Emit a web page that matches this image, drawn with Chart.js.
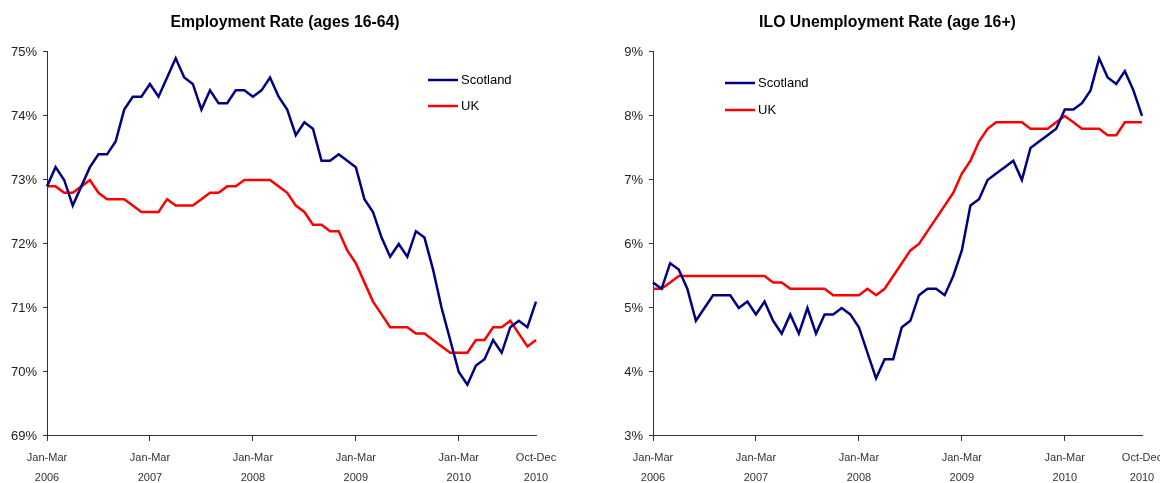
<!DOCTYPE html>
<html>
<head>
<meta charset="utf-8">
<script src="https://cdn.jsdelivr.net/npm/chart.js@4.4.0/dist/chart.umd.min.js"></script>
<style>
  html, body { margin: 0; padding: 0; background: #fff; overflow: hidden; }
  #wrap { position: relative; width: 1160px; height: 483px; overflow: hidden; }
  #empChart { position: absolute; left: 0; top: 0; }
  #unempChart { position: absolute; left: 580px; top: 0; }
</style>
</head>
<body>
<div id="wrap">
  <canvas id="empChart" width="564" height="483"></canvas>
  <canvas id="unempChart" width="608" height="483"></canvas>
</div>
<script>
// rolling three-month periods, Jan-Mar 2006 to Oct-Dec 2010
const quarters = ['Jan-Mar', 'Feb-Apr', 'Mar-May', 'Apr-Jun', 'May-Jul', 'Jun-Aug',
  'Jul-Sep', 'Aug-Oct', 'Sep-Nov', 'Oct-Dec', 'Nov-Jan', 'Dec-Feb'];
const years = ['2006', '2007', '2008', '2009', '2010'];
const periods = [];
years.forEach(y => quarters.forEach(q => periods.push([q, y])));
periods.length = 58;

// employment rate, ages 16-64 (%)
const empScotland = [72.9, 73.2, 73.0, 72.6, 72.9, 73.2, 73.4, 73.4, 73.6, 74.1, 74.3, 74.3,
  74.5, 74.3, 74.6, 74.9, 74.6, 74.5, 74.1, 74.4, 74.2, 74.2, 74.4, 74.4,
  74.3, 74.4, 74.6, 74.3, 74.1, 73.7, 73.9, 73.8, 73.3, 73.3, 73.4, 73.3,
  73.2, 72.7, 72.5, 72.1, 71.8, 72.0, 71.8, 72.2, 72.1, 71.6, 71.0, 70.5,
  70.0, 69.8, 70.1, 70.2, 70.5, 70.3, 70.7, 70.8, 70.7, 71.1];
const empUK = [72.9, 72.9, 72.8, 72.8, 72.9, 73.0, 72.8, 72.7, 72.7, 72.7, 72.6, 72.5,
  72.5, 72.5, 72.7, 72.6, 72.6, 72.6, 72.7, 72.8, 72.8, 72.9, 72.9, 73.0,
  73.0, 73.0, 73.0, 72.9, 72.8, 72.6, 72.5, 72.3, 72.3, 72.2, 72.2, 71.9,
  71.7, 71.4, 71.1, 70.9, 70.7, 70.7, 70.7, 70.6, 70.6, 70.5, 70.4, 70.3,
  70.3, 70.3, 70.5, 70.5, 70.7, 70.7, 70.8, 70.6, 70.4, 70.5];

// ILO unemployment rate, age 16+ (%)
const unempScotland = [5.4, 5.3, 5.7, 5.6, 5.3, 4.8, 5.0, 5.2, 5.2, 5.2, 5.0, 5.1,
  4.9, 5.1, 4.8, 4.6, 4.9, 4.6, 5.0, 4.6, 4.9, 4.9, 5.0, 4.9,
  4.7, 4.3, 3.9, 4.2, 4.2, 4.7, 4.8, 5.2, 5.3, 5.3, 5.2, 5.5,
  5.9, 6.6, 6.7, 7.0, 7.1, 7.2, 7.3, 7.0, 7.5, 7.6, 7.7, 7.8,
  8.1, 8.1, 8.2, 8.4, 8.9, 8.6, 8.5, 8.7, 8.4, 8.0];
const unempUK = [5.3, 5.3, 5.4, 5.5, 5.5, 5.5, 5.5, 5.5, 5.5, 5.5, 5.5, 5.5,
  5.5, 5.5, 5.4, 5.4, 5.3, 5.3, 5.3, 5.3, 5.3, 5.2, 5.2, 5.2,
  5.2, 5.3, 5.2, 5.3, 5.5, 5.7, 5.9, 6.0, 6.2, 6.4, 6.6, 6.8,
  7.1, 7.3, 7.6, 7.8, 7.9, 7.9, 7.9, 7.9, 7.8, 7.8, 7.8, 7.9,
  8.0, 7.9, 7.8, 7.8, 7.8, 7.7, 7.7, 7.9, 7.9, 7.9];

const FONT = "'Liberation Sans', Arial, sans-serif";
const axisColor = '#333333';

// legend drawn inside the plot, like the original
const insetLegend = {
  id: 'insetLegend',
  afterDraw(chart, args, opts) {
    const ctx = chart.ctx;
    ctx.save();
    ctx.font = '13px ' + FONT;
    ctx.textBaseline = 'middle';
    ctx.textAlign = 'left';
    chart.data.datasets.forEach((ds, i) => {
      const y = opts.y + i * opts.gap;
      ctx.strokeStyle = ds.borderColor;
      ctx.lineWidth = 2.5;
      ctx.beginPath();
      ctx.moveTo(opts.x, y);
      ctx.lineTo(opts.x + 30, y);
      ctx.stroke();
      ctx.fillStyle = '#000';
      ctx.fillText(ds.label, opts.x + 33, y);
    });
    ctx.restore();
  }
};

// centre the title over the whole panel, not just the padded box
const titleSpan = {
  id: 'titleSpan',
  afterLayout(chart, args, opts) {
    const t = chart.titleBlock;
    if (!t) return;
    t.left = opts.left;
    t.right = opts.right;
    t.width = opts.right - opts.left;
  }
};

function makeChart(id, title, scot, uk, yMin, yMax, yWidth, padR, span, legendPos) {
  return new Chart(document.getElementById(id), {
    type: 'line',
    data: {
      labels: periods,
      datasets: [
        { label: 'Scotland', data: scot, borderColor: '#000080', borderWidth: 2.5,
          pointRadius: 0, tension: 0, fill: false },
        { label: 'UK', data: uk, borderColor: '#ff0000', borderWidth: 2.5,
          pointRadius: 0, tension: 0, fill: false }
      ]
    },
    options: {
      responsive: false,
      animation: false,
      layout: { padding: { left: 0, right: padR, top: 0, bottom: 0 } },
      scales: {
        x: {
          grid: {
            drawOnChartArea: false,
            tickLength: 5,
            color: 'rgba(0,0,0,0)',
            tickColor: ctx => (ctx.index % 12 === 0 ? axisColor : 'rgba(0,0,0,0)')
          },
          border: { color: axisColor, width: 1 },
          ticks: {
            autoSkip: false,
            maxRotation: 0,
            padding: 7,
            color: '#333',
            font: { family: FONT, size: 11, lineHeight: 20 / 11 },
            callback: function (value, index) {
              if (index % 12 === 0 || index === periods.length - 1) return periods[index];
              return '';
            }
          },
          afterFit: scale => { scale.height = 47; }
        },
        y: {
          min: yMin,
          max: yMax,
          grid: { drawOnChartArea: false, tickLength: 4, color: axisColor },
          border: { color: axisColor, width: 1 },
          ticks: {
            stepSize: 1,
            padding: 6,
            color: '#222',
            font: { family: FONT, size: 13 },
            callback: v => v + '%'
          },
          afterFit: scale => { scale.width = yWidth; }
        }
      },
      plugins: {
        legend: { display: false },
        tooltip: { enabled: false },
        title: {
          display: true,
          text: title,
          color: '#000',
          font: { family: FONT, size: 15.8, weight: 'bold', lineHeight: 1.2 },
          padding: { top: 13.5, bottom: 19.5 }
        },
        titleSpan: span,
        insetLegend: legendPos
      }
    },
    plugins: [titleSpan, insetLegend]
  });
}

makeChart('empChart', 'Employment Rate (ages 16-64)', empScotland, empUK, 69, 75, 47, 28,
  { left: 0, right: 570 }, { x: 428, y: 80, gap: 26 });
makeChart('unempChart', 'ILO Unemployment Rate (age 16+)', unempScotland, unempUK, 3, 9, 73, 46,
  { left: 0, right: 615 }, { x: 145, y: 83, gap: 27 });
</script>
</body>
</html>
